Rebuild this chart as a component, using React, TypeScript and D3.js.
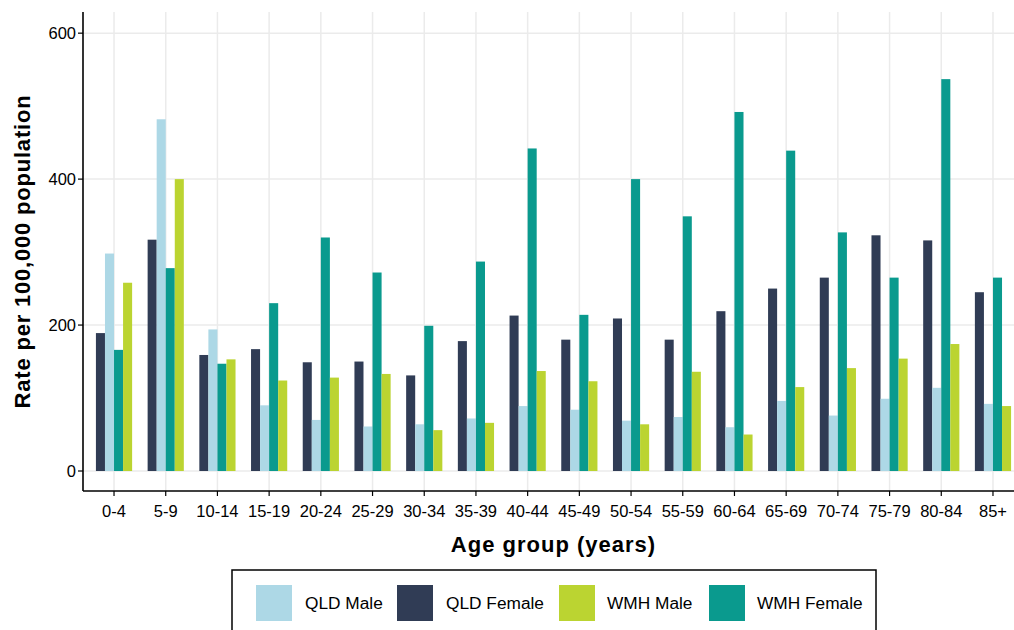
import React from "react";
import * as d3 from "d3";

const categories = ["0-4","5-9","10-14","15-19","20-24","25-29","30-34","35-39","40-44","45-49","50-54","55-59","60-64","65-69","70-74","75-79","80-84","85+"];
const qldFemale = [189,317,159,167,149,150,131,178,213,180,209,180,219,250,265,323,316,245];
const qldMale = [298,482,194,90,70,61,64,72,89,84,69,74,60,96,76,99,114,92];
const wmhFemale = [166,278,147,230,320,272,199,287,442,214,400,349,492,439,327,265,537,265];
const wmhMale = [258,400,153,124,128,133,56,66,137,123,64,136,50,115,141,154,174,89];
const yTicks = [0,200,400,600];

const seriesOrder = ["QLD Female","QLD Male","WMH Female","WMH Male"];
const seriesValues: Record<string, number[]> = {
  "QLD Female": qldFemale,
  "QLD Male": qldMale,
  "WMH Female": wmhFemale,
  "WMH Male": wmhMale,
};
const legendOrder = ["QLD Male","QLD Female","WMH Male","WMH Female"];
const colors: Record<string, string> = {
  "QLD Male": "#add8e6",
  "QLD Female": "#303c55",
  "WMH Male": "#bbd431",
  "WMH Female": "#0a9a8e",
};

const W = 1014, H = 630;
const left = 83, right = 1024, top = 12, bottom = 491;
const font = "Liberation Sans, Arial, sans-serif";

export default function App() {
  const x = d3.scalePoint<string>().domain(categories).range([left, right]).padding(0.6);
  const step = x.step();
  const inner = d3.scaleBand<string>().domain(seriesOrder).range([-0.35 * step, 0.35 * step]).padding(0);
  const y = d3.scaleLinear().domain([-27.4, 629]).range([bottom, top]);

  const legendKeys = [256, 397, 559, 709];
  const legendLabels = [305, 446, 607, 757];

  return (
    <svg width={W} height={H} style={{ position: "absolute", left: 0, top: 0, background: "#fff" }} fontFamily={font}>
      <rect x={0} y={0} width={W} height={H} fill="#fff" />
      {/* gridlines */}
      {yTicks.map((t) => (
        <line key={"gy" + t} x1={left} x2={right} y1={y(t)} y2={y(t)} stroke="#ebebeb" strokeWidth={1.5} />
      ))}
      {categories.map((c) => (
        <line key={"gx" + c} x1={x(c)} x2={x(c)} y1={top} y2={bottom} stroke="#ebebeb" strokeWidth={1.5} />
      ))}
      {/* bars */}
      {seriesOrder.map((s) =>
        categories.map((c, i) => {
          const v = seriesValues[s][i];
          const bx = (x(c) as number) + (inner(s) as number);
          return (
            <rect key={s + c} x={bx} y={y(v)} width={inner.bandwidth()} height={y(0) - y(v)} fill={colors[s]} />
          );
        })
      )}
      {/* axes */}
      <line x1={left} x2={left} y1={top} y2={bottom} stroke="#000" strokeWidth={1.6} />
      <line x1={left} x2={right} y1={bottom} y2={bottom} stroke="#000" strokeWidth={1.6} />
      {yTicks.map((t) => (
        <g key={"ty" + t}>
          <line x1={left - 5} x2={left} y1={y(t)} y2={y(t)} stroke="#000" strokeWidth={1.2} />
          <text x={left - 7} y={y(t) + 6} textAnchor="end" fontSize={16.5} fill="#000">{t}</text>
        </g>
      ))}
      {categories.map((c) => (
        <g key={"tx" + c}>
          <line x1={x(c)} x2={x(c)} y1={bottom} y2={bottom + 5} stroke="#000" strokeWidth={1.2} />
          <text x={x(c)} y={517} textAnchor="middle" fontSize={16.5} fill="#000">{c}</text>
        </g>
      ))}
      {/* axis titles */}
      <text x={(left + right) / 2} y={551.5} textAnchor="middle" fontSize={22} letterSpacing={1} fontWeight="bold" fill="#000">Age group (years)</text>
      <text transform={`translate(30,${(top + bottom) / 2}) rotate(-90)`} textAnchor="middle" fontSize={22} letterSpacing={0.8} fontWeight="bold" fill="#000">Rate per 100,000 population</text>
      {/* legend */}
      <rect x={232} y={570} width={644} height={80} fill="#fff" stroke="#000" strokeWidth={1.5} />
      {legendOrder.map((s, i) => (
        <g key={"lg" + s}>
          <rect x={legendKeys[i]} y={585} width={36} height={36} fill={colors[s]} />
          <text x={legendLabels[i]} y={609} fontSize={17.3} fill="#000">{s}</text>
        </g>
      ))}
    </svg>
  );
}
